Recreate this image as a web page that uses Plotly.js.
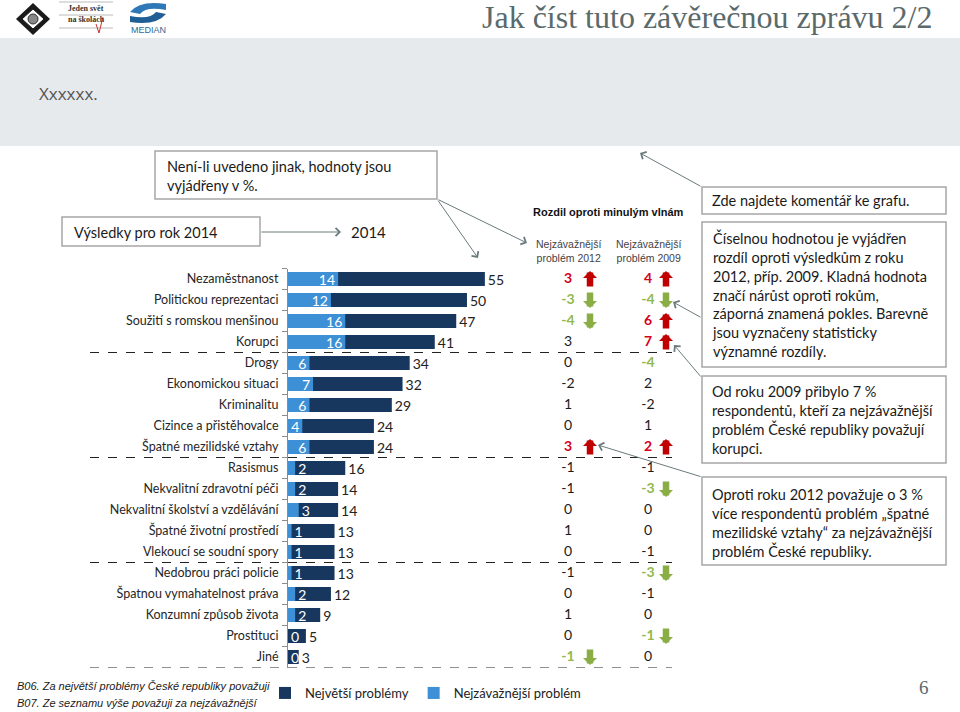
<!DOCTYPE html>
<html>
<head>
<meta charset="utf-8">
<script src="https://cdn.plot.ly/plotly-3.0.1.min.js"></script>
<style>
html,body{margin:0;padding:0;background:#fff;}
#chart{width:960px;height:712px;}
</style>
</head>
<body>
<div id="chart"></div>
<script>
// ---- data ----
var categories = ["Nezaměstnanost","Politickou reprezentaci","Soužití s romskou menšinou","Korupci","Drogy","Ekonomickou situaci","Kriminalitu","Cizince a přistěhovalce","Špatné mezilidské vztahy","Rasismus","Nekvalitní zdravotní péči","Nekvalitní školství a vzdělávání","Špatné životní prostředí","Vlekoucí se soudní spory","Nedobrou práci policie","Špatnou vymahatelnost práva","Konzumní způsob života","Prostituci","Jiné"];
var biggest     = [55,50,47,41,34,32,29,24,24,16,14,14,13,13,13,12,9,5,3];
var mostSerious = [14,12,16,16,6,7,6,4,6,2,2,3,1,1,1,2,2,0,0];
var diff2012 = [3,-3,-4,3,0,-2,1,0,3,-1,-1,0,1,0,-1,0,1,0,-1];
var diff2009 = [4,-4,6,7,-4,2,-2,1,2,-1,-3,0,0,-1,-3,-1,0,-1,0];
var sig2012  = [1,1,1,0,0,0,0,0,1,0,0,0,0,0,0,0,0,0,1];
var sig2009  = [1,1,1,1,1,0,0,0,1,0,1,0,0,0,1,0,0,1,0];
var arrow2012 = [1,1,1,0,0,0,0,0,1,0,0,0,0,0,0,0,0,0,1];
var arrow2009 = [1,1,1,1,0,0,0,0,1,0,1,0,0,0,1,0,0,1,0];
var diffColumns = ["2012","2009"];
var seriesNames = ["Největší problémy","Nejzávažnější problém"];
var groupBreaks = [3.5, 8.5, 13.5, 18.5];

// ---- styles ----
var DARK = "#17375e", LIGHT = "#3d8fd6";
var RED = "#d4001c", GREEN = "#92b84e", REDARROW = "#c00000", GREENARROW = "#8aae45";
var W = 960, H = 712;
function px(x){return x/W;}
function py(y){return 1 - y/H;}
var FONT = "Lato, 'Open Sans', sans-serif";
var NARROW = "'Liberation Sans', Arial, sans-serif";

function diffText(vals, sig){
  return vals.map(function(v,i){ return sig[i] ? "<b>"+v+"</b>" : String(v); });
}
function diffColor(vals, sig){
  return vals.map(function(v,i){ return sig[i] ? (v>0?RED:GREEN) : "#1a1a1a"; });
}

var traces = [
  {type:"bar", orientation:"h", name:seriesNames[0], y:categories, x:biggest,
   marker:{color:DARK}, width:0.66, text:biggest.map(String), textposition:"outside", textangle:0,
   constraintext:"none",
   textfont:{family:FONT,size:14,color:"#222"}, cliponaxis:false, hoverinfo:"x+y"},
  {type:"bar", orientation:"h", name:seriesNames[1], y:categories, x:mostSerious,
   marker:{color:LIGHT}, width:0.66, text:mostSerious.map(String), textangle:0,
   textposition:mostSerious.map(function(v){return v>=4?"inside":"outside";}),
   insidetextanchor:"end", constraintext:"none",
   textfont:{family:FONT,size:14,color:"#fff"}, cliponaxis:false, hoverinfo:"x+y"},
  {type:"scatter", mode:"text", xaxis:"x2", yaxis:"y", showlegend:false,
   x:categories.map(function(){return diffColumns[0];}), y:categories,
   text:diffText(diff2012,sig2012), textposition:"middle center",
   textfont:{family:FONT,size:14,color:diffColor(diff2012,sig2012)}, hoverinfo:"skip", cliponaxis:false},
  {type:"scatter", mode:"text", xaxis:"x2", yaxis:"y", showlegend:false,
   x:categories.map(function(){return diffColumns[1];}), y:categories,
   text:diffText(diff2009,sig2009), textposition:"middle center",
   textfont:{family:FONT,size:14,color:diffColor(diff2009,sig2009)}, hoverinfo:"skip", cliponaxis:false}
];

var shapes = [];
var annotations = [];

// header band
shapes.push({type:"rect",xref:"paper",yref:"paper",x0:0,x1:1,y0:py(146),y1:py(38),fillcolor:"#e7eaed",line:{width:0},layer:"below"});
// logo 1: diamond
shapes.push({type:"path",xref:"paper",yref:"paper",path:"M "+px(33)+","+py(3)+" L "+px(50)+","+py(19)+" L "+px(33)+","+py(35)+" L "+px(16)+","+py(19)+" Z",fillcolor:"#1a1a1a",line:{width:0}});
shapes.push({type:"path",xref:"paper",yref:"paper",path:"M "+px(33)+","+py(9)+" L "+px(44)+","+py(19)+" L "+px(33)+","+py(29)+" L "+px(22)+","+py(19)+" Z",fillcolor:"#fff",line:{color:"#1a1a1a",width:1}});
shapes.push({type:"circle",xref:"paper",yref:"paper",x0:px(28),x1:px(38),y0:py(24),y1:py(14),fillcolor:"#888",line:{color:"#333",width:1}});
// logo 2 lines
[2,15,28].forEach(function(y){
  shapes.push({type:"line",xref:"paper",yref:"paper",x0:px(59),x1:px(113),y0:py(y),y1:py(y),line:{color:"#bbb",width:1}});
});
shapes.push({type:"path",xref:"paper",yref:"paper",path:"M "+px(96)+","+py(24)+" L "+px(99)+","+py(33)+" L "+px(103)+","+py(17),line:{color:"#c33",width:1}});
// logo 3 ribbon
shapes.push({type:"path",xref:"paper",yref:"paper",path:"M "+px(130)+","+py(12)+" Q "+px(140)+","+py(0)+" "+px(166)+","+py(4)+" L "+px(166)+","+py(10)+" Q "+px(146)+","+py(6)+" "+px(140)+","+py(14)+" Z",fillcolor:"#2e78b7",line:{width:0}});
shapes.push({type:"path",xref:"paper",yref:"paper",path:"M "+px(166)+","+py(14)+" Q "+px(156)+","+py(26)+" "+px(130)+","+py(22)+" L "+px(130)+","+py(16)+" Q "+px(150)+","+py(20)+" "+px(156)+","+py(12)+" Z",fillcolor:"#1f5f96",line:{width:0}});

// dashed group separators
groupBreaks.forEach(function(b){
  shapes.push({type:"line",xref:"paper",yref:"y",x0:px(90),x1:px(672),y0:b,y1:b,line:{color:"#222",width:1.2,dash:"dash"}});
});

// callout boxes
function box(x0,y0,x1,y1){
  shapes.push({type:"rect",xref:"paper",yref:"paper",x0:px(x0),x1:px(x1),y0:py(y1),y1:py(y0),fillcolor:"#fff",line:{color:"#a6a6a6",width:1.5}});
}
box(155,151,437,199);
box(62,217,260,246);
box(702,187,946,214);
box(702,222,946,367);
box(702,376,946,463);
box(702,477,946,565);

function boxText(text,x,yc,size){
  annotations.push({xref:"paper",yref:"paper",x:px(x),y:py(yc),xanchor:"left",yanchor:"middle",align:"left",showarrow:false,
    text:text,font:{family:FONT,size:size||14.5,color:"#1a1a1a"}});
}
boxText("Není-li uvedeno jinak, hodnoty jsou<br>vyjádřeny v %.",165,176);
boxText("Výsledky pro rok 2014",72,232);
boxText("Zde najdete komentář ke grafu.",710,201);
boxText("Číselnou hodnotou je vyjádřen<br>rozdíl oproti výsledkům z roku<br>2012, příp. 2009. Kladná hodnota<br>značí nárůst oproti rokům,<br>záporná znamená pokles. Barevně<br>jsou vyznačeny statisticky<br>významné rozdíly.",710,294);
boxText("Od roku 2009 přibylo 7 %<br>respondentů, kteří za nejzávažnější<br>problém České republiky považují<br>korupci.",710,420);
boxText("Oproti roku 2012 považuje o 3 %<br>více respondentů problém „špatné<br>mezilidské vztahy“ za nejzávažnější<br>problém České republiky.",710,523);

// connector arrows (head at x,y ; tail offset in px)
function connector(hx,hy,tx,ty){
  annotations.push({xref:"paper",yref:"paper",x:px(hx),y:py(hy),ax:tx-hx,ay:ty-hy,text:"",showarrow:true,
    arrowhead:4,arrowsize:1.6,arrowwidth:1,arrowcolor:"#6b7b7d"});
}
connector(478,258,437,199);
connector(527,243,437,199);
connector(341,232,260,232);
connector(640,153,702,187);
connector(673,302,702,318);
connector(674,345,702,378);
connector(598,445,702,477);

// texts
annotations.push({xref:"paper",yref:"paper",x:px(935),y:py(17),xanchor:"right",yanchor:"middle",showarrow:false,
  text:"Jak číst tuto závěrečnou zprávu 2/2",font:{family:"'Liberation Serif', 'DejaVu Serif', serif",size:32,color:"#5a6a6b"}});
annotations.push({xref:"paper",yref:"paper",x:px(37),y:py(93),xanchor:"left",yanchor:"middle",showarrow:false,
  text:"Xxxxxx.",font:{family:"'Open Sans', sans-serif",size:17,color:"#555"}});
annotations.push({xref:"paper",yref:"paper",x:px(86),y:py(8),xanchor:"center",yanchor:"middle",showarrow:false,
  text:"<b>Jeden svět</b>",font:{family:"'Liberation Serif', serif",size:8,color:"#333"}});
annotations.push({xref:"paper",yref:"paper",x:px(86),y:py(19),xanchor:"center",yanchor:"middle",showarrow:false,
  text:"<b>na školách</b>",font:{family:"'Liberation Serif', serif",size:8,color:"#333"}});
annotations.push({xref:"paper",yref:"paper",x:px(148),y:py(30),xanchor:"center",yanchor:"middle",showarrow:false,
  text:"MEDIAN",font:{family:"'Liberation Sans', sans-serif",size:9,color:"#2d6a96"}});
annotations.push({xref:"paper",yref:"paper",x:px(368),y:py(232),xanchor:"center",yanchor:"middle",showarrow:false,
  text:"2014",font:{family:FONT,size:15,color:"#1a1a1a"}});
annotations.push({xref:"paper",yref:"paper",x:px(608),y:py(212),xanchor:"center",yanchor:"middle",showarrow:false,
  text:"<b>Rozdil oproti minulým vlnám</b>",font:{family:NARROW,size:11,color:"#111"}});
annotations.push({xref:"x2",yref:"paper",x:0,y:py(251),xanchor:"center",yanchor:"middle",showarrow:false,
  text:"Nejzávažnější<br>problém "+diffColumns[0],font:{family:NARROW,size:10.5,color:"#444"}});
annotations.push({xref:"x2",yref:"paper",x:1,y:py(251),xanchor:"center",yanchor:"middle",showarrow:false,
  text:"Nejzávažnější<br>problém "+diffColumns[1],font:{family:NARROW,size:10.5,color:"#444"}});
annotations.push({xref:"paper",yref:"paper",x:px(15),y:py(686),xanchor:"left",yanchor:"middle",showarrow:false,
  text:"<i>B06. Za největší problémy České republiky považuji</i>",font:{family:NARROW,size:11,color:"#1a1a1a"}});
annotations.push({xref:"paper",yref:"paper",x:px(15),y:py(703),xanchor:"left",yanchor:"middle",showarrow:false,
  text:"<i>B07. Ze seznamu výše považuji za nejzávažnější</i>",font:{family:NARROW,size:11,color:"#1a1a1a"}});
annotations.push({xref:"paper",yref:"paper",x:px(924),y:py(687),xanchor:"center",yanchor:"middle",showarrow:false,
  text:"6",font:{family:"'Liberation Serif', serif",size:19,color:"#5a6a6b"}});

// significance arrows
function sigArrows(vals, flags, colIndex, shift){
  vals.forEach(function(v,i){
    if(!flags[i]) return;
    var up = v > 0;
    annotations.push({xref:"x2",yref:"y",x:colIndex,y:i,xshift:shift,yshift:up?8:-8,
      ax:0,ay:up?17:-17,text:"",showarrow:true,arrowhead:1,arrowsize:0.36,arrowwidth:6.5,
      arrowcolor:up?REDARROW:GREENARROW});
  });
}
sigArrows(diff2012, arrow2012, 0, 22);
sigArrows(diff2009, arrow2009, 1, 18);

var layout = {
  width:W, height:H, margin:{l:0,r:0,t:0,b:0},
  paper_bgcolor:"#fff", plot_bgcolor:"rgba(0,0,0,0)",
  barmode:"overlay", showlegend:true,
  font:{family:FONT,size:12,color:"#222"},
  xaxis:{domain:[px(288),px(540)],range:[0,70.4],visible:false,fixedrange:true},
  xaxis2:{domain:[px(540),px(700)],type:"category",categoryorder:"array",categoryarray:diffColumns,range:[-0.35,1.65],
          visible:false,anchor:"y",fixedrange:true},
  yaxis:{domain:[py(667.5),py(268.5)],type:"category",categoryorder:"array",categoryarray:categories,range:[18.5,-0.5],
         showline:true,linecolor:"#8c8c8c",linewidth:1,ticks:"outside",tickson:"boundaries",
         ticklen:5,tickcolor:"#8c8c8c",ticklabelstandoff:6,showgrid:false,zeroline:false,
         tickfont:{family:FONT,size:12.5,color:"#262626"},fixedrange:true},
  legend:{orientation:"h",x:px(265),y:py(693),xanchor:"left",yanchor:"middle",
          font:{family:FONT,size:13,color:"#222"},itemwidth:30,
          traceorder:"normal",bgcolor:"rgba(0,0,0,0)"},
  shapes:shapes, annotations:annotations
};

Plotly.newPlot("chart", traces, layout, {displayModeBar:false, staticPlot:true});
</script>
</body>
</html>
